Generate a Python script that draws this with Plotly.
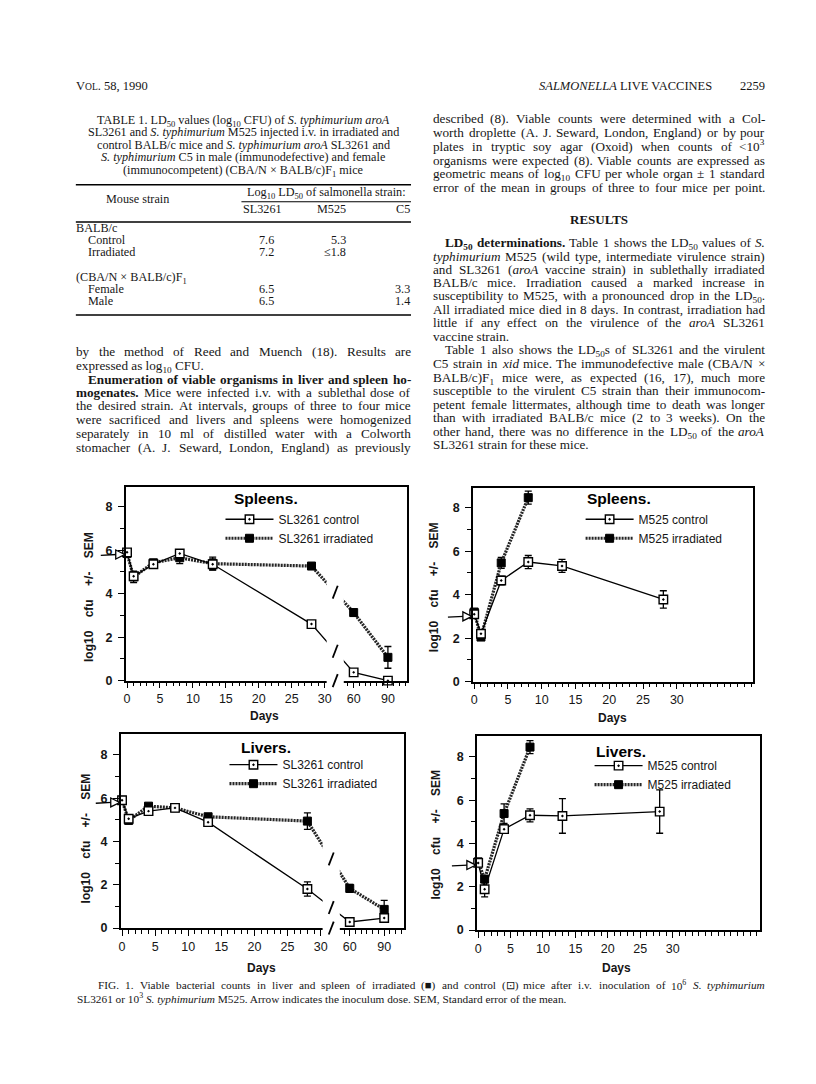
import re
from itertools import groupby
import numpy as np
import plotly.graph_objects as go

W, H = 816, 1084

# ---------------- chart data: log10 CFU per organ (mean, SEM) ----------------
days_sl3261 = [0, 1, 4, 8, 13, 28, 60, 90]
spleen_sl3261_control = [5.9, 4.8, 5.35, 5.85, 5.35, 2.6, 0.38, 0.0]
spleen_sl3261_control_sem = [0.0, 0.1, 0.1, 0.1, 0.25, 0.1, 0.1, 0.0]
spleen_sl3261_irradiated = [5.85, 4.77, 5.42, 5.65, 5.38, 5.27, 3.13, 1.07]
spleen_sl3261_irradiated_sem = [0.0, 0.26, 0.12, 0.27, 0.3, 0.08, 0.17, 0.5]

liver_sl3261_control = [5.9, 5.05, 5.4, 5.55, 4.89, 1.8, 0.28, 0.46]
liver_sl3261_control_sem = [0.0, 0.08, 0.08, 0.08, 0.08, 0.33, 0.06, 0.1]
liver_sl3261_irradiated = [5.9, 4.97, 5.63, 5.55, 5.14, 4.94, 1.83, 0.86]
liver_sl3261_irradiated_sem = [0.0, 0.1, 0.08, 0.08, 0.08, 0.38, 0.18, 0.42]

days_m525_control = [0, 1, 4, 8, 13, 28]
days_m525_irradiated = [0, 1, 4, 8]
spleen_m525_control = [3.1, 2.2, 4.65, 5.5, 5.32, 3.78]
spleen_m525_control_sem = [0.0, 0.12, 0.2, 0.3, 0.3, 0.4]
spleen_m525_irradiated = [3.2, 2.05, 5.46, 8.46]
spleen_m525_irradiated_sem = [0.0, 0.1, 0.25, 0.3]

liver_m525_control = [3.1, 1.88, 4.66, 5.3, 5.27, 5.47]
liver_m525_control_sem = [0.0, 0.35, 0.2, 0.3, 0.8, 1.0]
liver_m525_irradiated = [3.15, 2.35, 5.38, 8.45]
liver_m525_irradiated_sem = [0.0, 0.15, 0.45, 0.3]

inoculum_sl3261 = 5.8   # log10 inoculum dose (arrow)
inoculum_m525 = 3.0

x_tick_days = [0, 5, 10, 15, 20, 25, 30]
x_tick_late_days = [60, 90]
y_tick_vals = [0, 2, 4, 6, 8]
y_minor_vals = [1, 3, 5, 7]

# ---------------- table data ----------------
table_rows = [
    ("BALB/c", None, None, None, False),
    ("Control", "7.6", "5.3", "", True),
    ("Irradiated", "7.2", "\u22641.8", "", True),
    ("(CBA/N \u00d7 BALB/c)F<sub>1</sub>", None, None, None, False),
    ("Female", "6.5", "", "3.3", True),
    ("Male", "6.5", "", "1.4", True),
]
table_row_y = [224, 236, 248, 273, 285, 297]

SERIF = "Liberation Serif"
SANS = "Liberation Sans"
INK = "#161616"

annotations = []
shapes = []


def paper_x(px):
    return px / W


def paper_y(py):
    return 1 - py / H


# ---------------- Times-compatible metrics for justification ----------------
def build(pairs):
    d = {}
    for chars, w in pairs:
        for c in chars:
            d[c] = w
    return d


ROMAN = build([(" .,", 250), ("ijlt/:;", 278), ("fr()-I'[]", 333), ("sJ", 389),
               ('"', 408), ("acez?", 444), ("bdghknopquvxy0123456789*#$", 500),
               ("FPS", 556), ("<>=+\u00d7\u00b1", 564), ("\u2264", 549), ("ELTZ", 611),
               ("BCR", 667), ("ADGHKNOQUVXYw", 722), ("m&", 778), ("M", 889), ("W", 944),
               ("%", 833), ("\u25a0\u22a1", 620)])
BOLD = build([(" .,", 250), ("il", 278), ("ftj()-:;", 333), ("sI", 389), ("cerz", 444),
              ("agovxy0123456789J", 500), ("bdhknpqSu", 556), ("FP", 611), ("ELTZB", 667),
              ("ACDNRUVXYw", 722), ("GHKOQ", 778), ("m", 833), ("M", 944), ("W", 1000)])
ITAL = build([(" .,", 250), ("ijlft", 278), ("()-I:;", 333), ("rsz", 389), ("cekvxyJ", 444),
              ("abdghnopquS0123456789", 500), ("LTYZ", 556), ("AEFPRVX", 611), ("CKNw", 667),
              ("DGHOQUm", 722), ("MW", 833)])

TAG = re.compile(r"(</?(?:b|i|sub|sup)>)")


def parse(markup):
    out = []
    b = i = False
    s = None
    for tok in TAG.split(markup):
        if not tok:
            continue
        if TAG.fullmatch(tok):
            closing = tok.startswith("</")
            name = tok.strip("</>")
            if name == "b":
                b = not closing
            elif name == "i":
                i = not closing
            else:
                s = None if closing else name
        else:
            for ch in tok:
                out.append((ch, b, i, s))
    return out


def esc(t):
    return t.replace("&", "&amp;").replace("<", "&lt;").replace(">", "&gt;")


def to_html(chars):
    parts = []
    for (b, i, s), grp in groupby(chars, key=lambda c: c[1:]):
        t = esc("".join(c[0] for c in grp))
        if s:
            t = f"<{s}>{t}</{s}>"
        if i:
            t = f"<i>{t}</i>"
        if b:
            t = f"<b>{t}</b>"
        parts.append(t)
    return "".join(parts)


def width(chars, size):
    tot = 0
    for c, b, i, s in chars:
        tab = BOLD if b else (ITAL if i else ROMAN)
        tot += tab.get(c, 500) * (0.7 if s else 1.0)
    return tot * size / 1000


def put(chars, x, yc, size, anchor="left", family=SERIF, color=INK):
    base = yc + 0.24 * size - 1.5
    if any(c[3] == "sup" for c in chars):
        y, ya = base + 0.216 * size + 0.8, "bottom"
    else:
        y, ya = base - 0.891 * size, "top"
    annotations.append(dict(text=to_html(chars), x=paper_x(x), y=paper_y(y), xref="paper",
                            yref="paper", xanchor=anchor, yanchor=ya, showarrow=False,
                            borderpad=0, borderwidth=0,
                            font=dict(family=family, size=size, color=color)))


def text(markup, x, yc, size, anchor="left", **kw):
    put(parse(markup), x, yc, size, anchor, **kw)


def para_line(markup, x0, x1, yc, size, justify=True, indent=0):
    chars = parse(markup)
    x0 = x0 + indent
    if not justify:
        put(chars, x0, yc, size)
        return
    words, cur = [], []
    for c in chars:
        if c[0] == " ":
            if cur:
                words.append(cur)
                cur = []
        else:
            cur.append(c)
    if cur:
        words.append(cur)
    ws = [width(w, size) for w in words]
    gap = (x1 - x0 - sum(ws)) / max(len(words) - 1, 1)
    x = x0
    for k, (w, wd) in enumerate(zip(words, ws)):
        if k == len(words) - 1 and k > 0:
            put(w, x1, yc, size, anchor="right")
        else:
            put(w, x, yc, size)
        x += wd + gap


def line_px(x0, y0, x1, y1, w=1.0, color="black"):
    shapes.append(dict(type="line", xref="paper", yref="paper", x0=paper_x(x0), y0=paper_y(y0),
                       x1=paper_x(x1), y1=paper_y(y1), line=dict(color=color, width=w), layer="above"))


# ---------------- page text ----------------
LEFT = (66, 402)
RIGHT = (424, 757)
BODY = 13.2
IND = 12

annotations.append(dict(text='V<span style="font-size:9.6px">OL</span>. 58, 1990', x=paper_x(66),
                        y=paper_y(79), xref="paper", yref="paper", xanchor="left", yanchor="middle",
                        showarrow=False, borderpad=0, borderwidth=0,
                        font=dict(family=SERIF, size=12.5, color=INK)))
text("<i>SALMONELLA</i> LIVE VACCINES", 704, 81, 12.5, anchor="right")
text("2259", 757, 81, 12.5, anchor="right")

table_caption = [
    "TABLE 1. LD<sub>50</sub> values (log<sub>10</sub> CFU) of <i>S. typhimurium aroA</i>",
    "SL3261 and <i>S. typhimurium</i> M525 injected i.v. in irradiated and",
    "control BALB/c mice and <i>S. typhimurium aroA</i> SL3261 and",
    "<i>S. typhimurium</i> C5 in male (immunodefective) and female",
    "(immunocompetent) (CBA/N \u00d7 BALB/c)F<sub>1</sub> mice",
]
for ln, yy in zip(table_caption, [115, 127.5, 140, 152.5, 165]):
    text(ln, 234, yy, 12.2, anchor="center")

TS = 12.2
line_px(LEFT[0], 178, LEFT[1], 178, 1.5)
text("Log<sub>10</sub> LD<sub>50</sub> of salmonella strain:", 317, 187.5, TS, anchor="center")
line_px(232, 195, LEFT[1], 195, 1.1)
text("Mouse strain", 128, 195, TS, anchor="center")
text("SL3261", 253, 205, TS, anchor="center")
text("M525", 322, 205, TS, anchor="center")
text("C5", 401, 205, TS, anchor="right")
line_px(LEFT[0], 215.5, LEFT[1], 215.5, 1.5)
for (lab, v1, v2, v3, indent), yy in zip(table_rows, table_row_y):
    text(lab, LEFT[0] + (12 if indent else 0), yy, TS)
    if v1:
        text(v1, 257, yy, TS, anchor="center")
    if v2:
        text(v2, 337, yy, TS, anchor="right")
    if v3:
        text(v3, 401, yy, TS, anchor="right")
line_px(LEFT[0], 309, LEFT[1], 309, 1.5)

left_lines = [
    ("by the method of Reed and Muench (18). Results are", 348, True, 0),
    ("expressed as log<sub>10</sub> CFU.", 362, False, 0),
    ("<b>Enumeration of viable organisms in liver and spleen ho-</b>", 376, True, IND),
    ("<b>mogenates.</b> Mice were infected i.v. with a sublethal dose of", 389.5, True, 0),
    ("the desired strain. At intervals, groups of three to four mice", 403, True, 0),
    ("were sacrificed and livers and spleens were homogenized", 417, True, 0),
    ("separately in 10 ml of distilled water with a Colworth", 431, True, 0),
    ("stomacher (A. J. Seward, London, England) as previously", 444.5, True, 0),
]
for ln, yy, j, ind in left_lines:
    para_line(ln, LEFT[0], LEFT[1], yy, BODY, j, ind)

right_lines = [
    ("described (8). Viable counts were determined with a Col-", 114, True, 0),
    ("worth droplette (A. J. Seward, London, England) or by pour", 128, True, 0),
    ("plates in tryptic soy agar (Oxoid) when counts of <10<sup>3</sup>", 142, True, 0),
    ("organisms were expected (8). Viable counts are expressed as", 156, True, 0),
    ("geometric means of log<sub>10</sub> CFU per whole organ \u00b1 1 standard", 169.5, True, 0),
    ("error of the mean in groups of three to four mice per point.", 183, True, 0),
    ("<b>LD<sub>50</sub> determinations.</b> Table 1 shows the LD<sub>50</sub> values of <i>S.</i>", 239, True, IND),
    ("<i>typhimurium</i> M525 (wild type, intermediate virulence strain)", 252.3, True, 0),
    ("and SL3261 (<i>aroA</i> vaccine strain) in sublethally irradiated", 265.7, True, 0),
    ("BALB/c mice. Irradiation caused a marked increase in", 279, True, 0),
    ("susceptibility to M525, with a pronounced drop in the LD<sub>50</sub>.", 292.3, True, 0),
    ("All irradiated mice died in 8 days. In contrast, irradiation had", 306, True, 0),
    ("little if any effect on the virulence of the <i>aroA</i> SL3261", 319.3, True, 0),
    ("vaccine strain.", 333.3, False, 0),
    ("Table 1 also shows the LD<sub>50</sub>s of SL3261 and the virulent", 346.7, True, IND),
    ("C5 strain in <i>xid</i> mice. The immunodefective male (CBA/N \u00d7", 360.7, True, 0),
    ("BALB/c)F<sub>1</sub> mice were, as expected (16, 17), much more", 374.3, True, 0),
    ("susceptible to the virulent C5 strain than their immunocom-", 387.7, True, 0),
    ("petent female littermates, although time to death was longer", 401.7, True, 0),
    ("than with irradiated BALB/c mice (2 to 3 weeks). On the", 415, True, 0),
    ("other hand, there was no difference in the LD<sub>50</sub> of the <i>aroA</i>", 429, True, 0),
    ("SL3261 strain for these mice.", 442.3, False, 0),
]
for ln, yy, j, ind in right_lines:
    para_line(ln, RIGHT[0], RIGHT[1], yy, BODY, j, ind)
text("<b>RESULTS</b>", 590, 215.5, 13, anchor="center")

CAP = 11.3
para_line("FIG. 1. Viable bacterial counts in liver and spleen of irradiated (\u25a0) and control (\u22a1) "
          "mice after i.v. inoculation of 10<sup>6</sup> <i>S. typhimurium</i>", 88, 757, 986, CAP, True)
para_line("SL3261 or 10<sup>3</sup> <i>S. typhimurium</i> M525. Arrow indicates the inoculum dose. "
          "SEM, Standard error of the mean.", 67, 757, 999, CAP, False)

# ---------------- broken day axis (0-30 linear, then 60/90 compressed) ----------------
LATE_START, LATE_SCALE = 34.4, 5.2 / 30


def axis_pos(d):
    d = np.asarray(d, float)
    return np.where(d <= 31, d, LATE_START + (d - 60) * LATE_SCALE)


panels = [
    dict(xd=(116, 398), yd=(482, 677), xr=(-0.2, 42.5), yr=(0, 8.91), broken=True, xmax=None,
         title="Spleens.", title_at=(257, 494), legend_at=(211, 500), ytitle_at=(79, 593),
         days_at=(255, 713), dose=inoculum_sl3261,
         series=[("SL3261 irradiated", days_sl3261, spleen_sl3261_irradiated, spleen_sl3261_irradiated_sem, True),
                 ("SL3261 control", days_sl3261, spleen_sl3261_control, spleen_sl3261_control_sem, False)]),
    dict(xd=(464, 745), yd=(483, 678), xr=(-0.2, 41.3), yr=(0, 8.91), broken=False, xmax=41,
         title="Spleens.", title_at=(610, 494), legend_at=(572, 500), ytitle_at=(425, 583),
         days_at=(604, 715), dose=inoculum_m525,
         series=[("M525 irradiated", days_m525_irradiated, spleen_m525_irradiated, spleen_m525_irradiated_sem, True),
                 ("M525 control", days_m525_control, spleen_m525_control, spleen_m525_control_sem, False)]),
    dict(xd=(111, 395), yd=(731, 926), xr=(-0.2, 42.6), yr=(0, 8.95), broken=True, xmax=None,
         title="Livers.", title_at=(257, 744), legend_at=(215, 747), ytitle_at=(76, 836),
         days_at=(252, 966), dose=inoculum_sl3261,
         series=[("SL3261 irradiated", days_sl3261, liver_sl3261_irradiated, liver_sl3261_irradiated_sem, True),
                 ("SL3261 control", days_sl3261, liver_sl3261_control, liver_sl3261_control_sem, False)]),
    dict(xd=(468, 752), yd=(733, 928), xr=(-0.2, 43.5), yr=(0, 8.95), broken=False, xmax=43,
         title="Livers.", title_at=(613, 748), legend_at=(581, 748), ytitle_at=(427, 832),
         days_at=(608, 966), dose=inoculum_m525,
         series=[("M525 irradiated", days_m525_irradiated, liver_m525_irradiated, liver_m525_irradiated_sem, True),
                 ("M525 control", days_m525_control, liver_m525_control, liver_m525_control_sem, False)]),
]


def to_px(pn, p, v):
    (x0, x1), (y0, y1) = pn["xd"], pn["yd"]
    (r0, r1), (s0, s1) = pn["xr"], pn["yr"]
    return x0 + (p - r0) / (r1 - r0) * (x1 - x0), y1 - (v - s0) / (s1 - s0) * (y1 - y0)


fig = go.Figure()
layout = dict(width=W, height=H, margin=dict(l=0, r=0, t=0, b=0), paper_bgcolor="white",
              plot_bgcolor="white", showlegend=True)

for k, pn in enumerate(panels, start=1):
    sx = "" if k == 1 else str(k)
    xref, yref, legkey = "x" + sx, "y" + sx, "legend" + sx

    if pn["broken"]:
        major_days = x_tick_days + x_tick_late_days
        tickvals = list(axis_pos(major_days))
        ticktext = [str(d) for d in major_days]
        minor = list(axis_pos([d for d in range(1, 32) if d % 5])) + \
            list(axis_pos([55, 65, 70, 75, 80, 85, 95, 100, 105]))
    else:
        tickvals = x_tick_days
        ticktext = [str(d) for d in x_tick_days]
        minor = [d for d in range(1, pn["xmax"] + 1) if not (d % 5 == 0 and d <= 30)]

    layout["xaxis" + sx] = dict(
        domain=[paper_x(pn["xd"][0]), paper_x(pn["xd"][1])], range=list(pn["xr"]), anchor=yref,
        showline=True, linecolor="black", linewidth=1.5, mirror=True, showgrid=False, zeroline=False,
        ticks="outside", ticklen=6, tickwidth=1.3, tickcolor="black", tickmode="array",
        tickvals=tickvals, ticktext=ticktext,
        tickfont=dict(family=SANS, size=12.5, color=INK),
        minor=dict(tickmode="array", tickvals=minor, ticks="outside", ticklen=4, tickwidth=1.1,
                   tickcolor="black", showgrid=False),
        fixedrange=True)
    layout["yaxis" + sx] = dict(
        domain=[paper_y(pn["yd"][1]), paper_y(pn["yd"][0])], range=list(pn["yr"]), anchor=xref,
        showline=True, linecolor="black", linewidth=1.5, mirror=True, showgrid=False, zeroline=False,
        ticks="outside", ticklen=6, tickwidth=1.3, tickcolor="black", tickmode="array",
        tickvals=y_tick_vals, ticktext=[str(v) for v in y_tick_vals], ticklabelstandoff=3,
        tickfont=dict(family=SANS, size=12.5, color=INK, weight="bold"),
        minor=dict(tickmode="array", tickvals=y_minor_vals, ticks="outside", ticklen=4, tickwidth=1.1,
                   tickcolor="black", showgrid=False),
        fixedrange=True)
    layout[legkey] = dict(x=paper_x(pn["legend_at"][0]), y=paper_y(pn["legend_at"][1]),
                          xanchor="left", yanchor="top", bgcolor="rgba(0,0,0,0)", borderwidth=0,
                          font=dict(family=SANS, size=12, color=INK), itemwidth=48,
                          tracegroupgap=0, traceorder="normal", itemclick=False, itemdoubleclick=False)

    for name, d, v, e, irr in pn["series"]:
        pos = axis_pos(d) if pn["broken"] else np.asarray(d, float)
        if irr:
            line = dict(color="#262626", width=3.2, dash="2px,1px")
            marker = dict(symbol="square", size=8, color="black", line=dict(color="black", width=1))
        else:
            line = dict(color="black", width=1.3)
            marker = dict(symbol="square-dot", size=8.5, color="white", line=dict(color="black", width=1.4))
        fig.add_trace(go.Scatter(
            x=pos, y=v, mode="lines+markers", name=name, line=line, marker=marker,
            error_y=dict(type="data", array=e, visible=True, color="black", thickness=1.3, width=3.5),
            xaxis=xref, yaxis=yref, legend=legkey, legendrank=2 if irr else 1,
            cliponaxis=False, hoverinfo="skip"))

    # panel labels
    tx, ty = pn["title_at"]
    annotations.append(dict(text=pn["title"], x=paper_x(tx), y=paper_y(ty), xref="paper", yref="paper",
                            xanchor="center", yanchor="middle", showarrow=False,
                            font=dict(family=SANS, size=15.5, color="black", weight="bold")))
    dx, dy = pn["days_at"]
    annotations.append(dict(text="Days", x=paper_x(dx), y=paper_y(dy), xref="paper", yref="paper",
                            xanchor="center", yanchor="middle", showarrow=False,
                            font=dict(family=SANS, size=12, color=INK, weight="bold")))
    gx, gy = pn["ytitle_at"]
    sp = "\u00a0" * 4
    annotations.append(dict(text=f"log10{sp}cfu{sp}+/-{sp}SEM", x=paper_x(gx), y=paper_y(gy),
                            xref="paper", yref="paper", xanchor="center", yanchor="middle",
                            textangle=-90, showarrow=False,
                            font=dict(family=SANS, size=12, color=INK, weight="bold")))

    # inoculum arrow
    ax0 = pn["xd"][0]
    _, ay = to_px(pn, 0, pn["dose"])
    line_px(ax0 - 25, ay + 0.8, ax0 - 9, ay, 1.3)
    tip, back = ax0 - 1, ax0 - 10
    shapes.append(dict(type="path", xref="paper", yref="paper", layer="above",
                       path=f"M{paper_x(back)},{paper_y(ay - 4.5)} L{paper_x(tip)},{paper_y(ay)} "
                            f"L{paper_x(back)},{paper_y(ay + 4.5)} Z",
                       fillcolor="white", line=dict(color="black", width=1.3)))

    # axis break: gap in lines/axis plus slash marks
    if pn["broken"]:
        gx0, _ = to_px(pn, 30.3, 0)
        gx1, _ = to_px(pn, 32.9, 0)
        _, gtop = to_px(pn, 0, 8.7)
        _, gbot = to_px(pn, 0, 0)
        shapes.append(dict(type="rect", xref="paper", yref="paper", layer="above",
                           x0=paper_x(gx0), x1=paper_x(gx1), y0=paper_y(gbot + 7.5), y1=paper_y(gtop),
                           fillcolor="white", line=dict(width=0)))
        slash_p = 31.6
        marks = [0.0]
        for name, d, v, e, irr in pn["series"]:
            marks.append(float(np.interp(slash_p, axis_pos(d), v)))
        for mv in marks:
            sxp, syp = to_px(pn, slash_p, mv)
            line_px(sxp - 2.5, syp + 6.5, sxp + 2.5, syp - 6.5, 1.8)

layout["annotations"] = annotations
layout["shapes"] = shapes
fig.update_layout(**layout)
fig.write_html("out.html", config={"displayModeBar": False})
